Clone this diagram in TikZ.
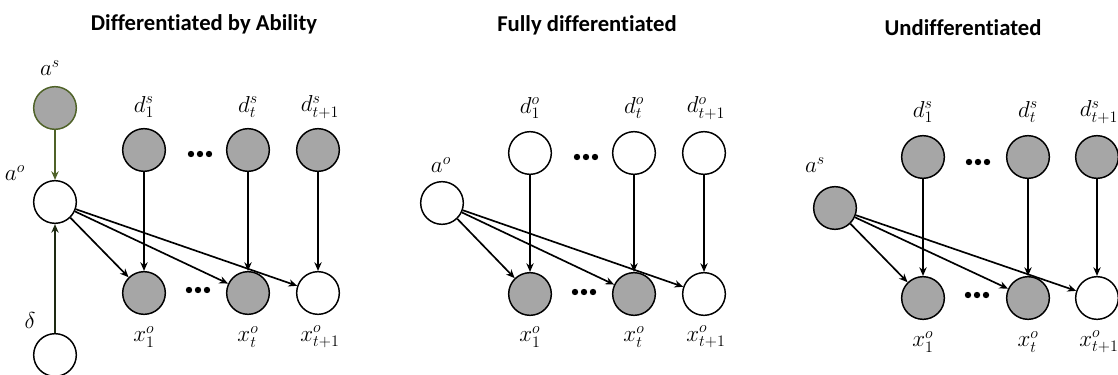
\documentclass[tikz,border=0pt]{standalone}
\usepackage{fontspec}
\setsansfont{Carlito}[Ligatures=NoCommon]
\usetikzlibrary{arrows.meta}
\definecolor{obsgrey}{HTML}{A6A6A6}
\definecolor{leafgreen}{HTML}{4F6228}
\definecolor{darkgreen}{HTML}{1E2A12}
\tikzset{
  var/.style={circle, draw=black, line width=1.1pt, minimum size=32pt, inner sep=0pt, fill=white},
  obs/.style={var, fill=obsgrey},
  lbl/.style={inner sep=0pt, font=\fontsize{17}{20}\selectfont},
  ttl/.style={inner sep=0pt, font=\sffamily\bfseries\fontsize{17}{20}\selectfont},
  link/.style={line width=1.25pt, -{Stealth[length=6.5pt,width=5.5pt]}},
  dotdot/.style={fill=black},
}
\begin{document}
\begin{tikzpicture}[x=0.75pt, y=-0.75pt]
\useasboundingbox (0,0) rectangle (1118,375);

% ---------- Differentiated by Ability ----------
\node[ttl] (t1) at (204,24) {Differentiated by Ability};
\node[obs, draw=leafgreen] (aS) at (55,108) {};
\node[var] (aO) at (55,202) {};
\node[var] (del) at (55,355) {};
\node[obs] (d1) at (144,150) {};
\node[obs] (dt) at (248,150) {};
\node[obs] (dT) at (318,150) {};
\node[obs] (x1) at (144,293) {};
\node[obs] (xt) at (248,293) {};
\node[var] (xT) at (318,293) {};
\node[lbl] (laS) at (50,68) {$a^s$};
\node[lbl] (laO) at (15,173) {$a^o$};
\node[lbl] (ldel) at (30,320) {$\delta$};
\node[lbl] (ld1) at (144,107) {$d_1^s$};
\node[lbl] (ldt) at (248,107) {$d_t^s$};
\node[lbl] (ldT) at (320,107) {$d_{t+1}^s$};
\node[lbl] (lx1) at (144,337) {$x_1^o$};
\node[lbl] (lxt) at (248,337) {$x_t^o$};
\node[lbl] (lxT) at (320,337) {$x_{t+1}^o$};
\foreach \cx in {-9,0,9} {
  \fill[dotdot] (200+\cx,154) circle (3.2);
  \fill[dotdot] (198+\cx,290) circle (3.2);
}
\draw[link, leafgreen] (aS) -- (aO);
\draw[link, darkgreen, line width=1.6pt] (del) -- (aO);
\draw[link] (aO) -- (x1);
\draw[link] (aO) -- (xt);
\draw[link] (aO) -- (xT);
\draw[link] (d1) -- (x1);
\draw[link] (dt) -- (xt);
\draw[link] (dT) -- (xT);

% ---------- Fully differentiated ----------
\node[ttl] (t2) at (587,25) {Fully differentiated};
\node[var] (bO) at (442,203) {};
\node[var] (e1) at (530,153) {};
\node[var] (et) at (634,153) {};
\node[var] (eT) at (704,153) {};
\node[obs] (y1) at (530,294) {};
\node[obs] (yt) at (634,294) {};
\node[var] (yT) at (704,294) {};
\node[lbl] (lbO) at (441,165) {$a^o$};
\node[lbl] (le1) at (530,108) {$d_1^o$};
\node[lbl] (let) at (634,108) {$d_t^o$};
\node[lbl] (leT) at (706,108) {$d_{t+1}^o$};
\node[lbl] (ly1) at (530,337) {$x_1^o$};
\node[lbl] (lyt) at (634,337) {$x_t^o$};
\node[lbl] (lyT) at (706,337) {$x_{t+1}^o$};
\foreach \cx in {-9,0,9} {
  \fill[dotdot] (586+\cx,157) circle (3.2);
  \fill[dotdot] (584+\cx,292) circle (3.2);
}
\draw[link] (bO) -- (y1);
\draw[link] (bO) -- (yt);
\draw[link] (bO) -- (yT);
\draw[link] (e1) -- (y1);
\draw[link] (et) -- (yt);
\draw[link] (eT) -- (yT);

% ---------- Undifferentiated ----------
\node[ttl] (t3) at (963,28) {Undifferentiated};
\node[obs] (cS) at (835,208) {};
\node[obs] (f1) at (923,157) {};
\node[obs] (ft) at (1028,157) {};
\node[obs] (fT) at (1097,157) {};
\node[obs] (z1) at (923,298) {};
\node[obs] (zt) at (1028,298) {};
\node[var] (zT) at (1097,298) {};
\node[lbl] (lcS) at (815,165) {$a^s$};
\node[lbl] (lf1) at (923,112) {$d_1^s$};
\node[lbl] (lft) at (1028,112) {$d_t^s$};
\node[lbl] (lfT) at (1099,112) {$d_{t+1}^s$};
\node[lbl] (lz1) at (923,342) {$x_1^o$};
\node[lbl] (lzt) at (1028,342) {$x_t^o$};
\node[lbl] (lzT) at (1099,342) {$x_{t+1}^o$};
\foreach \cx in {-9,0,9} {
  \fill[dotdot] (978+\cx,162) circle (3.2);
  \fill[dotdot] (977+\cx,295) circle (3.2);
}
\draw[link] (cS) -- (z1);
\draw[link] (cS) -- (zt);
\draw[link] (cS) -- (zT);
\draw[link] (f1) -- (z1);
\draw[link] (ft) -- (zt);
\draw[link] (fT) -- (zT);
\end{tikzpicture}
\end{document}
